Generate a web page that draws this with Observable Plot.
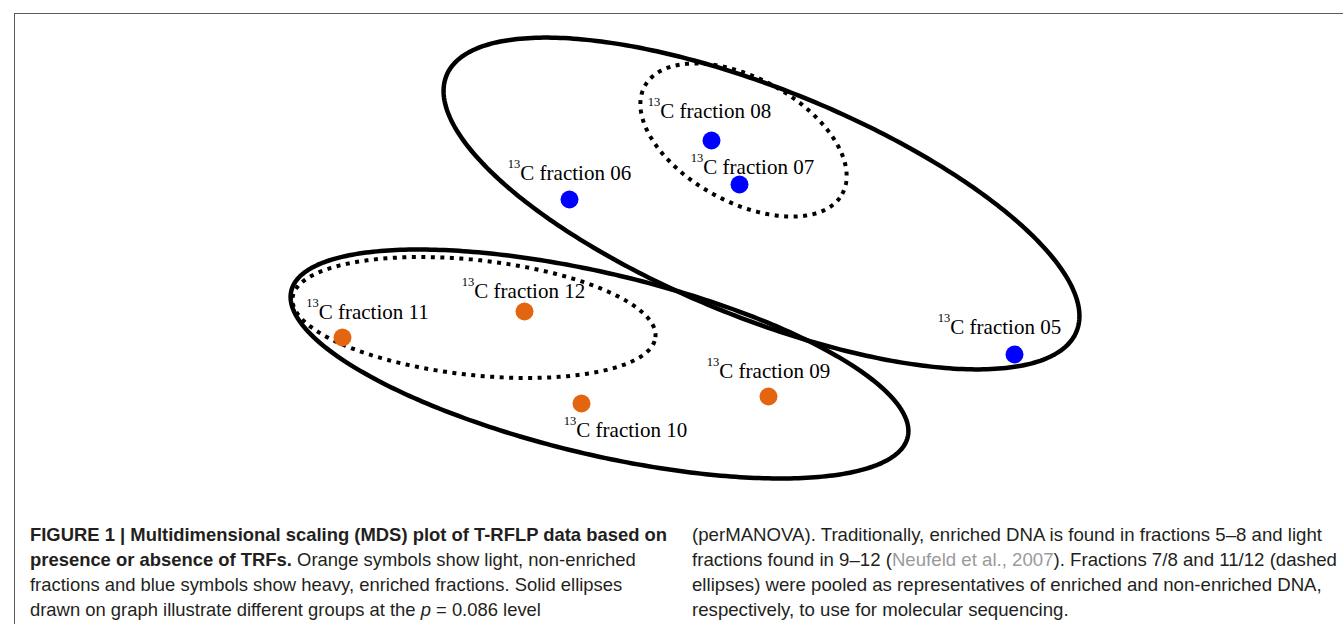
<!DOCTYPE html>
<html>
<head>
<meta charset="utf-8">
<script src="https://cdn.jsdelivr.net/npm/d3@7"></script>
<script src="https://cdn.jsdelivr.net/npm/@observablehq/plot@0.6"></script>
<style>
  html, body { margin: 0; padding: 0; background: #fff; }
  body { width: 1343px; height: 624px; overflow: hidden; position: relative; }
  #frame { position: absolute; left: 14px; top: 13px; right: -2px; bottom: -2px;
           border-left: 1.5px solid #5c5c5c; border-top: 1.5px solid #5c5c5c; }
  #chart { position: absolute; left: 0; top: 0; }
  .col { position: absolute; top: 522px; font-family: "Liberation Sans", Arial, sans-serif;
         font-size: 18.5px; line-height: 25px; color: #231f20; transform-origin: 0 0; }
  .col div { white-space: nowrap; }
  #left { left: 30px; }
  #right { left: 692px; }
  .ref { color: #9a9a9a; }
</style>
</head>
<body>
<div id="frame"></div>
<div id="chart"></div>
<div class="col" id="left">
  <div id="l1"><b>FIGURE 1 | Multidimensional scaling (MDS) plot of T-RFLP data based on</b></div>
  <div><b>presence or absence of TRFs.</b> Orange symbols show light, non-enriched</div>
  <div>fractions and blue symbols show heavy, enriched fractions. Solid ellipses</div>
  <div>drawn on graph illustrate different groups at the <i>p</i> = 0.086 level</div>
</div>
<div class="col" id="right">
  <div id="r1">(perMANOVA). Traditionally, enriched DNA is found in fractions 5–8 and light</div>
  <div>fractions found in 9–12 (<span class="ref">Neufeld et al., 2007</span>). Fractions 7/8 and 11/12 (dashed</div>
  <div>ellipses) were pooled as representatives of enriched and non-enriched DNA,</div>
  <div>respectively, to use for molecular sequencing.</div>
</div>
<script>
// MDS coordinates of the fractions (arbitrary MDS units)
const fractions = ["05", "06", "07", "08", "09", "10", "11", "12"];
const mdsX = [1.256, -0.524, 0.156, 0.044, 0.272, -0.476, -1.432, -0.704];
const mdsY = [-0.376, 0.244, 0.304, 0.480, -0.544, -0.572, -0.308, -0.204];
const groups = ["heavy", "heavy", "heavy", "heavy", "light", "light", "light", "light"];
// label anchor positions (MDS units)
const labelX = [1.196, -0.524, 0.208, 0.036, 0.272, -0.300, -1.332, -0.708];
const labelY = [-0.292, 0.324, 0.348, 0.572, -0.468, -0.704, -0.232, -0.148];
const isotope = "13";

// ellipses: centre, semi-axes, rotation (degrees), line style
const ellipseNames = ["heavy p=0.086", "light p=0.086", "fractions 7/8", "fractions 11/12"];
const ellipseCX = [0.244, -0.404, 0.172, -0.906];
const ellipseCY = [0.228, -0.414, 0.482, -0.228];
const ellipseA = [1.36, 1.267, 0.45, 0.73];
const ellipseB = [0.456, 0.362, 0.248, 0.23];
const ellipseAngle = [-22.1, -13.35, -28.6, -6.2];
const ellipseDashed = [false, false, true, true];

const points = fractions.map((f, i) => ({
  sup: isotope, rest: "C fraction " + f, label: isotope + "C fraction " + f,
  x: mdsX[i], y: mdsY[i], group: groups[i], lx: labelX[i], ly: labelY[i]
}));

function outline(i) {
  const n = 360, phi = ellipseAngle[i] * Math.PI / 180, out = [];
  for (let k = 0; k <= n; k++) {
    const t = 2 * Math.PI * k / n;
    const ex = ellipseA[i] * Math.cos(t), ey = ellipseB[i] * Math.sin(t);
    out.push({
      id: ellipseNames[i],
      x: ellipseCX[i] + ex * Math.cos(phi) - ey * Math.sin(phi),
      y: ellipseCY[i] + ex * Math.sin(phi) + ey * Math.cos(phi)
    });
  }
  return out;
}
const solid = ellipseNames.flatMap((d, i) => ellipseDashed[i] ? [] : outline(i));
const dashed = ellipseNames.flatMap((d, i) => ellipseDashed[i] ? outline(i) : []);

const chart = Plot.plot({
  width: 1343,
  height: 490,
  margin: 0,
  x: { domain: [-2.8, 2.572], axis: null },
  y: { domain: [-0.92, 1.04], axis: null },
  color: { domain: ["heavy", "light"], range: ["#0000ff", "#e3650f"] },
  style: { background: "transparent" },
  marks: [
    Plot.line(solid, { x: "x", y: "y", z: "id", stroke: "#000", strokeWidth: 4.5, curve: "linear" }),
    Plot.line(dashed, { x: "x", y: "y", z: "id", stroke: "#000", strokeWidth: 4, strokeDasharray: "4,5.5", strokeLinecap: "butt" }),
    Plot.dot(points, { x: "x", y: "y", r: 9, fill: "group", stroke: "none" }),
    Plot.text(points, { x: "lx", y: "ly", text: "label", textAnchor: "middle", lineAnchor: "bottom",
      fontFamily: "Liberation Serif, Times New Roman, serif", fontSize: 21, fill: "#000" })
  ]
});
document.getElementById("chart").appendChild(chart);

// render the isotope number as a superscript
const svgNS = "http://www.w3.org/2000/svg";
chart.querySelectorAll('g[aria-label="text"] text').forEach(t => {
  const s = t.textContent;
  if (!s.startsWith(isotope)) return;
  t.textContent = "";
  const a = document.createElementNS(svgNS, "tspan");
  a.setAttribute("font-size", "12.5");
  a.setAttribute("dy", "-12");
  a.textContent = isotope;
  const b = document.createElementNS(svgNS, "tspan");
  b.setAttribute("dy", "12");
  b.textContent = s.slice(isotope.length);
  t.appendChild(a); t.appendChild(b);
});

// fit caption columns to the reference line widths
function fit(colId, lineId, target) {
  const line = document.getElementById(lineId);
  const r = document.createRange(); r.selectNodeContents(line);
  const w = r.getBoundingClientRect().width;
  document.getElementById(colId).style.transform = `scaleX(${target / w})`;
}
fit("left", "l1", 637);
fit("right", "r1", 630);
</script>
</body>
</html>
